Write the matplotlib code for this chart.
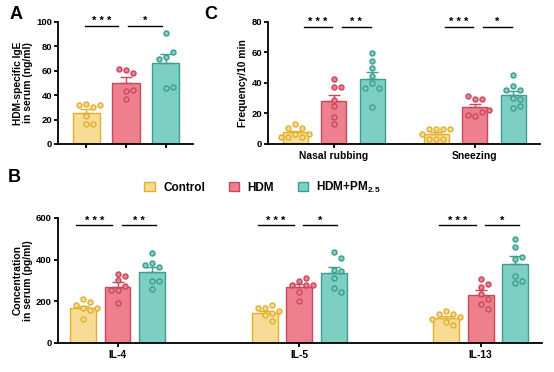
import numpy as np
import matplotlib
matplotlib.use("Agg")
import matplotlib.pyplot as plt
from matplotlib.patches import Patch

plt.rcParams['font.family'] = ['Liberation Sans', 'DejaVu Sans']
plt.rcParams['font.weight'] = 'bold'
plt.rcParams['mathtext.fontset'] = 'custom'
plt.rcParams['mathtext.rm'] = 'Liberation Sans'
plt.rcParams['mathtext.bf'] = 'Liberation Sans:bold'

# grupos e cores
grupos = ["Control", "HDM", "HDM+PM$_\\mathbf{2.5}$"]
cor_fundo = ["#F8DC96", "#EE7F8C", "#7DCFC3"]
cor_borda = ["#E2AF2C", "#C8485F", "#3C9E8E"]

# ---------------------- A: IgE ----------------------
ige_media = [25.7, 50.3, 66.5]
ige_sem = [2.7, 4.3, 7.3]
ige_pontos = [
    [33, 30.6, 31.7, 31.7, 22.9, 16.4, 16.4],
    [60.7, 58.5, 61.2, 43.7, 44.3, 37.2],
    [90.7, 71.6, 75.1, 69.7, 45.6, 46.4],
]
ige_sig = ["* * *", "*"]

# ---------------------- C: comportamento ----------------------
comp_labels = ["Nasal rubbing", "Sneezing"]
comp_media = [[7.6, 28.3, 42.5], [6.5, 24.0, 31.8]]
comp_sem = [[1.2, 3.7, 4.4], [1.2, 2.0, 3.1]]
comp_pontos = [
    [[13, 10.5, 10.5, 6.8, 6.8, 4.6, 4.6, 4.6],
     [42.5, 37.3, 37.3, 29, 24.6, 18, 13],
     [59.5, 54.5, 49.7, 44.3, 39.9, 36.6, 36.6, 24.2]],
    [[10, 10, 10, 10, 6.5, 3.3, 3.3, 3.3],
     [29.4, 29.4, 31.2, 18.1, 20.7, 19, 22],
     [45.3, 38.1, 35.5, 35.1, 30.1, 29.6, 23.3, 25]],
]
comp_sig = [["* * *", "* *"], ["* * *", "*"]]

# ---------------------- B: citocinas ----------------------
cit_labels = ["IL-4", "IL-5", "IL-13"]
cit_media = [[166, 270, 342], [144, 267, 338], [118, 232, 381]]
cit_sem = [[13, 23, 24], [10, 17, 27], [12, 24, 35]]
cit_pontos = [
    [[210, 195, 184, 168, 168, 160, 117],
     [333, 320, 301, 272, 256, 253, 192],
     [434, 386, 365, 376, 296, 296, 258]],
    [[170, 184, 166, 144, 152, 136, 106],
     [298, 314, 277, 280, 277, 245, 202],
     [437, 406, 352, 346, 314, 266, 246]],
    [[154, 138, 138, 125, 99, 85, 117],
     [306, 285, 269, 237, 213, 186, 163],
     [501, 461, 402, 413, 288, 320, 296]],
]
cit_sig = [["* * *", "* *"], ["* * *", "*"], ["* * *", "*"]]

fig = plt.figure(figsize=(5.54, 3.72), dpi=100)
ax_a = fig.add_axes([0.105, 0.613, 0.243, 0.328])
ax_c = fig.add_axes([0.484, 0.613, 0.491, 0.328])
ax_b = fig.add_axes([0.105, 0.078, 0.873, 0.336])


def estilo(ax, ymax, passo):
    for s in ["top", "right"]:
        ax.spines[s].set_visible(False)
    for s in ["left", "bottom"]:
        ax.spines[s].set_linewidth(1.3)
    ax.set_ylim(0, ymax)
    ax.set_yticks(np.arange(0, ymax + 1, passo))
    ax.tick_params(axis="both", width=1.3, length=3, labelsize=6.8, pad=1.5)
    ax.tick_params(axis="x", labelsize=7.4, pad=2)


def enxame(ax, x0, valores, dist=7.0):
    """Distribui os pontos lateralmente para não sobrepor (beeswarm simples)."""
    trans = ax.transData
    px = [trans.transform((x0, v)) for v in valores]
    colocados = []
    xs = []
    for (xp, yp) in px:
        for k in [0, 1, -1, 2, -2, 3, -3]:
            cx = xp + k * dist
            if all((cx - a) ** 2 + (yp - b) ** 2 >= (dist * 0.95) ** 2 for a, b in colocados):
                break
        colocados.append((cx, yp))
        xs.append(trans.inverted().transform((cx, yp))[0])
    return xs


def barras(ax, posicoes, medias, sems, pontos, largura):
    for i, x in enumerate(posicoes):
        ax.bar(x, medias[i], width=largura, color=cor_fundo[i],
               edgecolor=cor_borda[i], linewidth=1.0, zorder=2)
        ax.errorbar(x, medias[i], yerr=[[0], [sems[i]]], fmt="none",
                    ecolor=cor_borda[i], elinewidth=1.0, capsize=4,
                    capthick=1.0, zorder=3)
        xs = enxame(ax, x, pontos[i])
        ax.scatter(xs, pontos[i], s=13, color=cor_fundo[i],
                   edgecolor=cor_borda[i], linewidth=1.0, zorder=4)


def sig(ax, x1, x2, y, texto):
    ax.plot([x1, x2], [y, y], color="black", lw=1.0, clip_on=False)
    ax.annotate(texto, xy=((x1 + x2) / 2, y), xytext=(0, 1),
                textcoords="offset points", ha="center", va="baseline",
                fontsize=8, fontweight="bold", annotation_clip=False)


# ---------------------- A ----------------------
estilo(ax_a, 100, 20)
ax_a.set_xlim(-0.7, 2.675)
pos_a = np.arange(3)
barras(ax_a, pos_a, ige_media, ige_sem, ige_pontos, 0.68)
ax_a.set_xticks(pos_a)
ax_a.set_xticklabels([])
ax_a.set_ylabel("HDM-specific IgE\nin serum (ng/ml)", fontsize=7.4,
                fontweight="bold", labelpad=2, linespacing=1.05)
sig(ax_a, -0.03, 0.8, 97, ige_sig[0])
sig(ax_a, 1.05, 1.9, 97, ige_sig[1])

# ---------------------- C ----------------------
estilo(ax_c, 80, 20)
ax_c.set_xlim(-0.7, 6.36)
centros_c = np.array([1, 4.66])
for g in range(2):
    pos = centros_c[g] + np.array([-1, 0, 1])
    barras(ax_c, pos, comp_media[g], comp_sem[g], comp_pontos[g], 0.65)
    for j, t in enumerate(comp_sig[g]):
        sig(ax_c, pos[j] + 0.22, pos[j] + 0.96, 77, t)
ax_c.set_xticks(centros_c)
ax_c.set_xticklabels(comp_labels, fontweight="bold")
ax_c.set_ylabel("Frequency/10 min", fontsize=7.4, fontweight="bold", labelpad=2)

# ---------------------- B ----------------------
estilo(ax_b, 600, 200)
ax_b.set_xlim(-1.72, 12.29)
centros_b = np.arange(3) * 5.26
for g in range(3):
    pos = centros_b[g] + np.array([-1, 0, 1])
    barras(ax_b, pos, cit_media[g], cit_sem[g], cit_pontos[g], 0.75)
    sig(ax_b, pos[0] - 0.2, pos[0] + 0.85, 565, cit_sig[g][0])
    sig(ax_b, pos[1] + 0.12, pos[1] + 1.1, 565, cit_sig[g][1])
ax_b.set_xticks(centros_b)
ax_b.set_xticklabels(cit_labels, fontweight="bold")
ax_b.set_ylabel("Concentration\nin serum (pg/ml)", fontsize=7.4,
                fontweight="bold", labelpad=2, linespacing=1.05)

# legenda
handles = [Patch(facecolor=cor_fundo[i], edgecolor=cor_borda[i], linewidth=1.0)
           for i in range(3)]
fig.legend(handles, grupos, loc="center", bbox_to_anchor=(0.474, 0.497), ncol=3,
           frameon=False, handlelength=0.9, handleheight=0.9,
           columnspacing=2.0, handletextpad=0.7, prop={"weight": "bold", "size": 8.5})

# letras dos painéis
fig.text(0.018, 0.985, "A", fontsize=13, fontweight="bold", va="top")
fig.text(0.368, 0.985, "C", fontsize=13, fontweight="bold", va="top")
fig.text(0.014, 0.545, "B", fontsize=13, fontweight="bold", va="top")

fig.savefig("out.png", dpi=100)
